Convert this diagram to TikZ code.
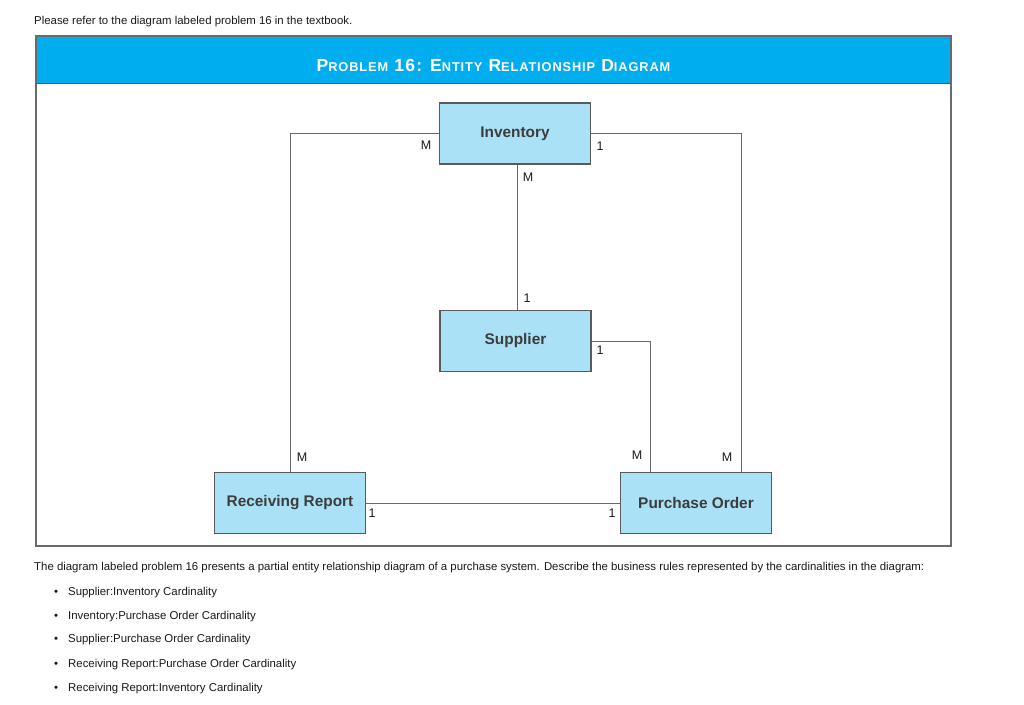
\documentclass[tikz,border=0pt]{standalone}
\usepackage{fontspec}
\setmainfont{Liberation Sans}
\usetikzlibrary{positioning}
\definecolor{bandblue}{HTML}{00AEEF}
\definecolor{boxblue}{HTML}{AAE1F7}
\definecolor{edgegray}{HTML}{5A5A5A}
\definecolor{linegray}{HTML}{6A6A6A}
\definecolor{txt}{HTML}{1A1A1A}
\newcommand{\sm}[1]{{\fontsize{12.8}{13}\selectfont #1}}
\begin{document}
\begin{tikzpicture}[x=1pt,y=-1pt,
  entity/.style={draw=edgegray,line width=1.1pt,fill=boxblue,minimum width=151pt,minimum height=61pt,inner sep=0pt,
    font=\fontsize{15.4}{17}\selectfont\bfseries,text=txt!85!white},
  conn/.style={draw=linegray,line width=1pt},
  card/.style={font=\fontsize{12.5}{14}\selectfont,text=txt,inner sep=0pt},
  para/.style={font=\fontsize{11.4}{13}\selectfont,text=txt,inner sep=0pt,anchor=base west}]
\useasboundingbox[fill=white] (0,0) rectangle (1024,704);
% top sentence
\node[para] (intro) at (34,24) {Please refer to the diagram labeled problem 16 in the textbook.};
% frame
\fill[bandblue] (36,36) rectangle (951,83);
\draw[draw=linegray,line width=1.4pt] (36,36) rectangle (951,546);
\draw[draw=edgegray,line width=1pt] (36,83) -- (951,83);
\node[text=white,font=\fontsize{17.5}{19}\selectfont\bfseries,inner sep=0pt] (title) at (493.5,65)
  {\addfontfeature{LetterSpace=7}P\sm{ROBLEM} 16: E\sm{NTITY} R\sm{ELATIONSHIP} D\sm{IAGRAM}};
% entities
\node[entity] (inv) at (515,133.5) {Inventory};
\node[entity] (sup) at (515.5,341) {Supplier};
\node[entity] (rr) at (290,503) {Receiving Report};
\node[entity] (po) at (696,503) {Purchase Order};
% connectors
\draw[conn] (inv.west) -| (rr.north);
\draw[conn] (inv.east) -| ([xshift=45pt]po.north);
\draw[conn] ([xshift=2pt]inv.south) -- ([xshift=1.5pt]sup.north);
\draw[conn] (sup.east) -| ([xshift=-46pt]po.north);
\draw[conn] (rr.east) -- (po.west);
% cardinalities
\node[card] (c1) at (426,145) {M};
\node[card] (c2) at (600,146) {1};
\node[card] (c3) at (528,177) {M};
\node[card] (c4) at (527,298) {1};
\node[card] (c5) at (600,350) {1};
\node[card] (c6) at (302,457) {M};
\node[card] (c7) at (637,455) {M};
\node[card] (c8) at (727,457) {M};
\node[card] (c9) at (372,513) {1};
\node[card] (c10) at (612,513) {1};
% question text
\node[para] (q) at (34,570) {The diagram labeled problem 16 presents a partial entity relationship diagram of a purchase system. Describe the business rules represented by the cardinalities in the diagram:};
\foreach \yy/\t [count=\i] in {595/{Supplier:Inventory Cardinality},619/{Inventory:Purchase Order Cardinality},642/{Supplier:Purchase Order Cardinality},667/{Receiving Report:Purchase Order Cardinality},691/{Receiving Report:Inventory Cardinality}}{
  \node[para] (b\i) at (54,\yy) {\textbullet};
  \node[para] (t\i) at (68,\yy) {\t};
}
\end{tikzpicture}
\end{document}
